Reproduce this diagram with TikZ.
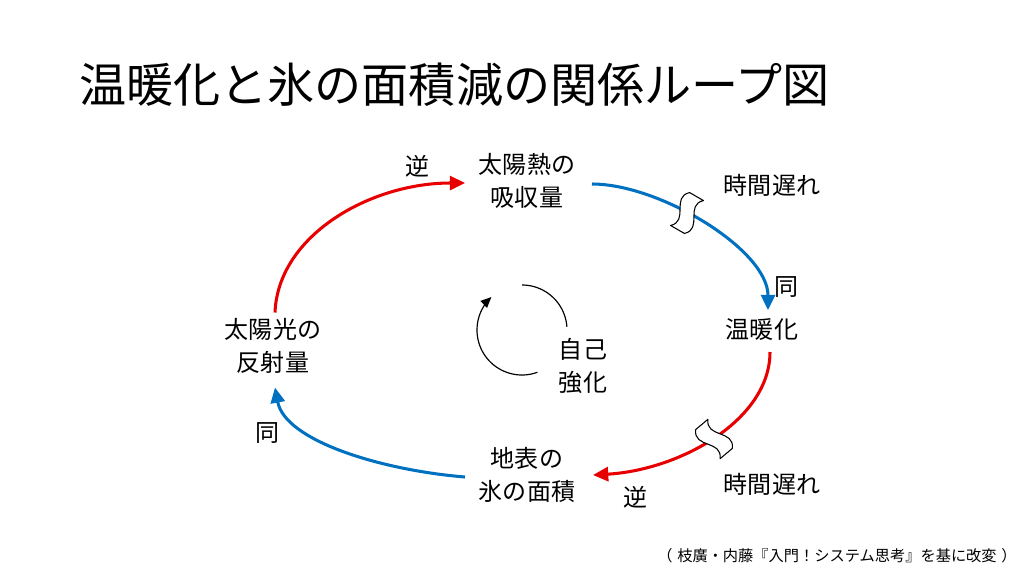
\documentclass[tikz,border=0pt]{standalone}
\usepackage{fontspec}
\setmainfont{Noto Sans CJK JP}
\usetikzlibrary{arrows.meta,calc}
\definecolor{lblue}{RGB}{0,112,192}
\definecolor{lred}{RGB}{232,0,0}
\begin{document}
\begin{tikzpicture}[x=0.03cm,y=-0.03cm,
  lbl/.style={inner sep=0pt,font=\fontsize{20.5}{28}\selectfont},
  factor/.style={lbl,align=center},
  link/.style={line width=2.6pt,-{Triangle[length=13pt,width=12pt]}},
  poslink/.style={link,draw=lblue},
  neglink/.style={link,draw=lred},
  brk/.style={draw=black,fill=white,line width=0.9pt,line join=round}]
\useasboundingbox (0,0) rectangle (1024,576);
\fill[white] (0,0) rectangle (1024,576);

\node[inner sep=0pt,anchor=west,font=\fontsize{40.2}{48}\selectfont] (title) at (79,85) {温暖化と氷の面積減の関係ループ図};

\node[factor] (heat) at (527,181) {太陽熱の\\吸収量};
\node[factor] (warm) at (762,329) {温暖化};
\node[factor] (ice) at (527,475) {地表の\\氷の面積};
\node[factor] (refl) at (273,345.5) {太陽光の\\反射量};
\node[factor] (self) at (583,366) {自己\\強化};

\node[lbl] (l1) at (418,166) {逆};
\node[lbl] (l2) at (772,185) {時間遅れ};
\node[lbl] (l3) at (787,287) {同};
\node[lbl] (l4) at (772,484) {時間遅れ};
\node[lbl] (l5) at (636,497) {逆};
\node[lbl] (l6) at (268,433) {同};

\node[inner sep=0pt,font=\fontsize{13}{15}\selectfont] (src) at (837,556) {（\hspace{4pt}枝廣・内藤『入門！システム思考』を基に改変\hspace{4pt}）};

\draw[poslink] ($(heat.center)+(65,3)$) .. controls +(68,0) and +(0,-60) .. ($(warm.center)+(6,-19)$);
\draw[neglink] ($(warm.center)+(8,23)$) .. controls +(0,68) and +(87,-5) .. ($(ice.center)+(66,0)$);
\draw[poslink] ($(ice.center)+(-62,2)$) .. controls +(-85,-7) and +(10,53) .. ($(refl.center)+(2,42)$);
\draw[neglink] ($(refl.center)+(2,-33)$) .. controls +(3,-77) and +(-95,0) .. ($(heat.center)+(-62,2)$);

\begin{scope}[shift={(687,213)},rotate=-30]
\draw[brk] (-8,-19) -- (8,-19) .. controls (-6,-6) and (22,6) .. (8,19) -- (-8,19) .. controls (6,6) and (-22,-6) .. (-8,-19) -- cycle;
\end{scope}
\begin{scope}[shift={(714,439)},rotate=40]
\draw[brk] (-8,-19) -- (8,-19) .. controls (-6,-6) and (22,6) .. (8,19) -- (-8,19) .. controls (6,6) and (-22,-6) .. (-8,-19) -- cycle;
\end{scope}

\draw[line width=1pt] plot[domain=-90:-4,samples=40,smooth] ({522+45*cos(\x)},{330+45*sin(\x)});
\draw[line width=1pt,-{Triangle[length=9pt,width=8pt]}] plot[domain=70:227,samples=60,smooth] ({522+45*cos(\x)},{330+45*sin(\x)});
\end{tikzpicture}
\end{document}
